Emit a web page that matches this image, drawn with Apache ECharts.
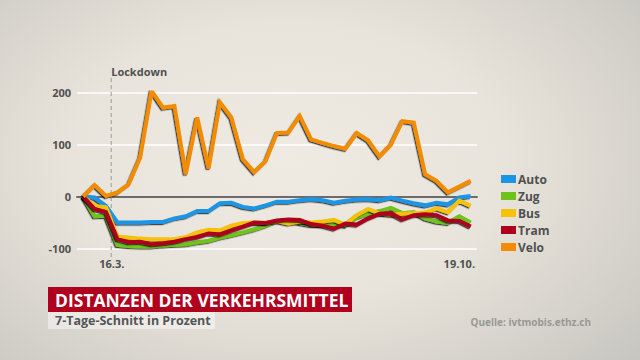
<!DOCTYPE html>
<html><head><meta charset="utf-8">
<script src="https://cdn.jsdelivr.net/npm/echarts@6/dist/echarts.min.js"></script>
<style>
html,body{margin:0;padding:0;width:640px;height:360px;overflow:hidden;}
body{background:radial-gradient(ellipse 75% 85% at 45% 45%, #efebe3 0%, #e8e4db 45%, #d6d3cc 75%, #c6c4bf 100%);}
#c{width:640px;height:360px;}
</style></head>
<body><div id="c"></div>
<script>
const seriesNames = ['Auto', 'Zug', 'Bus', 'Tram', 'Velo'];
const auto = [0, -2, -18, -50, -50, -50, -49, -49, -42, -38, -28, -28, -13, -12, -20, -23, -17, -10, -10, -7, -5, -7, -12, -8, -6, -5, -7, -2, -8, -13, -17, -12, -15, -2, 1];
const zug = [0, -38, -37, -93, -95, -96, -96, -94, -93, -92, -88, -85, -79, -74, -69, -63, -56, -47, -46, -51, -55, -55, -53, -56, -40, -33, -28, -22, -32, -30, -42, -48, -51, -38, -50];
const bus = [0, -18, -21, -77, -79, -81, -82, -82, -82, -78, -69, -64, -65, -56, -51, -50, -51, -47, -52, -48, -50, -48, -45, -54, -36, -24, -33, -35, -33, -32, -31, -23, -30, -8, -18];
const tram = [0, -24, -30, -82, -88, -87, -92, -90, -87, -82, -78, -71, -73, -65, -58, -50, -51, -46, -44, -45, -53, -56, -62, -52, -54, -42, -33, -32, -44, -36, -34, -36, -46, -47, -58];
const velo = [0, 22, 1, 8, 24, 75, 203, 171, 174, 43, 152, 54, 181, 152, 72, 47, 68, 122, 123, 155, 110, 103, 97, 92, 122, 108, 77, 100, 145, 142, 43, 30, 8, 19, 30];
const yTicks = [-100, 0, 100, 200];
const xTickLabels = ['16.3.', '19.10.'];
const xTickIndex = [2.5, 33];
const lockdownIndex = 2.45;
const lockdownLabel = 'Lockdown';
const titleText = 'DISTANZEN DER VERKEHRSMITTEL';
const subtitleText = '7-Tage-Schnitt in Prozent';
const sourceText = 'Quelle: ivtmobis.ethz.ch';

const colors = ['#1b95e6', '#6fc21a', '#f5c10a', '#ad001c', '#f28c00'];
const values = [auto, zug, bus, tram, velo];
const FONT = '"Open Sans", "Noto Sans", sans-serif';

const chart = echarts.init(document.getElementById('c'), null, {renderer: 'svg'});
const series = seriesNames.map((n, k) => ({
  name: n,
  type: 'line',
  data: values[k].map((v, i) => [i, v]),
  symbol: 'none',
  color: colors[k],
  lineStyle: {width: 4, color: colors[k], join: 'miter', shadowColor: 'rgba(0,0,0,0.7)', shadowBlur: 0, shadowOffsetX: -1.2, shadowOffsetY: 1.2},
  itemStyle: {color: colors[k]},
  z: 3 + k,
  silent: true,
  animation: false
}));

chart.setOption({
  animation: false,
  backgroundColor: 'transparent',
  grid: {left: 77, right: 163, top: 92.5, bottom: 111.5},
  xAxis: {
    type: 'value', min: -0.55, max: 34.55,
    splitLine: {show: false},
    axisLine: {show: true, onZero: true, lineStyle: {color: '#6b6b6b', width: 2}},
    axisTick: {show: false},
    axisLabel: {
      customValues: xTickIndex,
      formatter: v => xTickLabels[xTickIndex.indexOf(v)] || '',
      color: '#505050', fontFamily: FONT, fontWeight: 'bold', fontSize: 11, margin: 9
    }
  },
  yAxis: {
    type: 'value', min: -100, max: 200, interval: 100,
    axisLine: {show: false}, axisTick: {show: false},
    splitLine: {show: true, lineStyle: {color: '#ffffff', width: 1.5}},
    axisLabel: {color: '#505050', fontFamily: FONT, fontWeight: 'bold', fontSize: 11, margin: 6,
      formatter: v => yTicks.includes(v) ? String(v) : ''}
  },
  legend: {
    orient: 'vertical', left: 496, top: 167,
    icon: 'rect', itemWidth: 15, itemHeight: 8, itemGap: 3,
    data: seriesNames,
    textStyle: {color: '#505050', fontFamily: FONT, fontWeight: 'bold', fontSize: 12, lineHeight: 14, padding: [0, 0, 0, -3]},
    selectedMode: false
  },
  series: series
});

const lx = chart.convertToPixel({xAxisIndex: 0}, lockdownIndex);
chart.setOption({
  graphic: [
    {type: 'line', shape: {x1: lx, y1: 78, x2: lx, y2: 258}, style: {stroke: '#9a9a9a', lineWidth: 1, lineDash: [4, 3]}, z: 1},
    {type: 'text', x: lx, y: 71, style: {text: lockdownLabel, fill: '#505050', font: 'bold 11px ' + FONT, textAlign: 'left', textVerticalAlign: 'middle'}},
    {type: 'rect', shape: {x: 48, y: 287, width: 304, height: 25}, style: {fill: '#b1001d'}},
    {type: 'text', x: 55, y: 300, style: {text: titleText, fill: '#ffffff', font: 'bold 17.5px ' + FONT, textAlign: 'left', textVerticalAlign: 'middle'}},
    {type: 'rect', shape: {x: 48, y: 312, width: 167, height: 17}, style: {fill: 'rgba(255,255,255,0.45)'}},
    {type: 'text', x: 55, y: 320.5, style: {text: subtitleText, fill: '#555555', font: 'bold 12.5px ' + FONT, textAlign: 'left', textVerticalAlign: 'middle'}},
    {type: 'text', x: 591, y: 322, style: {text: sourceText, fill: '#9a9894', font: 'bold 10px ' + FONT, textAlign: 'right', textVerticalAlign: 'middle'}}
  ]
});
</script>
</body></html>
